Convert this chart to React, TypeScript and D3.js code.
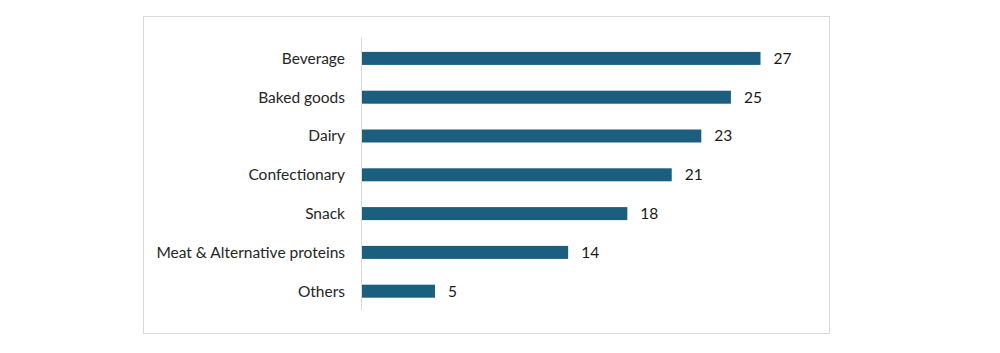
import React from 'react'
import * as d3 from 'd3'

const categories = [
  'Beverage',
  'Baked goods',
  'Dairy',
  'Confectionary',
  'Snack',
  'Meat & Alternative proteins',
  'Others',
]
const values = [27, 25, 23, 21, 18, 14, 5]

export default function App() {
  const width = 1000
  const height = 353
  const frame = { left: 143, top: 16, right: 829, bottom: 333 }
  const axisX = 361

  const x = d3.scaleLinear().domain([0, 27]).range([axisX, 760.5])
  const y = d3
    .scaleBand<string>()
    .domain(categories)
    .range([39, 310.6])
    .paddingInner(0.665)
    .paddingOuter(0.3325)

  const font = 'Lato, "Open Sans", sans-serif'

  return (
    <svg
      width={width}
      height={height}
      style={{ position: 'absolute', left: 0, top: 0, background: '#fff' }}
    >
      <rect
        x={frame.left + 0.5}
        y={frame.top + 0.5}
        width={frame.right - frame.left}
        height={frame.bottom - frame.top}
        fill="#fff"
        stroke="#d9d9d9"
        strokeWidth={1}
      />
      {categories.map((c, i) => {
        const yPos = y(c) as number
        const bw = y.bandwidth()
        return (
          <g key={c}>
            <rect
              x={x(0)}
              y={yPos}
              width={x(values[i]) - x(0)}
              height={bw}
              fill="#1b5e7e"
            />
            <text
              x={axisX - 16}
              y={yPos + bw / 2}
              dy="0.35em"
              textAnchor="end"
              fontFamily={font}
              fontSize={15.5}
              fill="#262626"
            >
              {c}
            </text>
            <text
              x={x(values[i]) + 13}
              y={yPos + bw / 2}
              dy="0.35em"
              fontFamily={font}
              fontSize={15.5}
              fill="#1a1a1a"
            >
              {values[i]}
            </text>
          </g>
        )
      })}
      <line x1={axisX + 0.5} x2={axisX + 0.5} y1={38} y2={310} stroke="#d9d9d9" strokeWidth={1} />
    </svg>
  )
}
